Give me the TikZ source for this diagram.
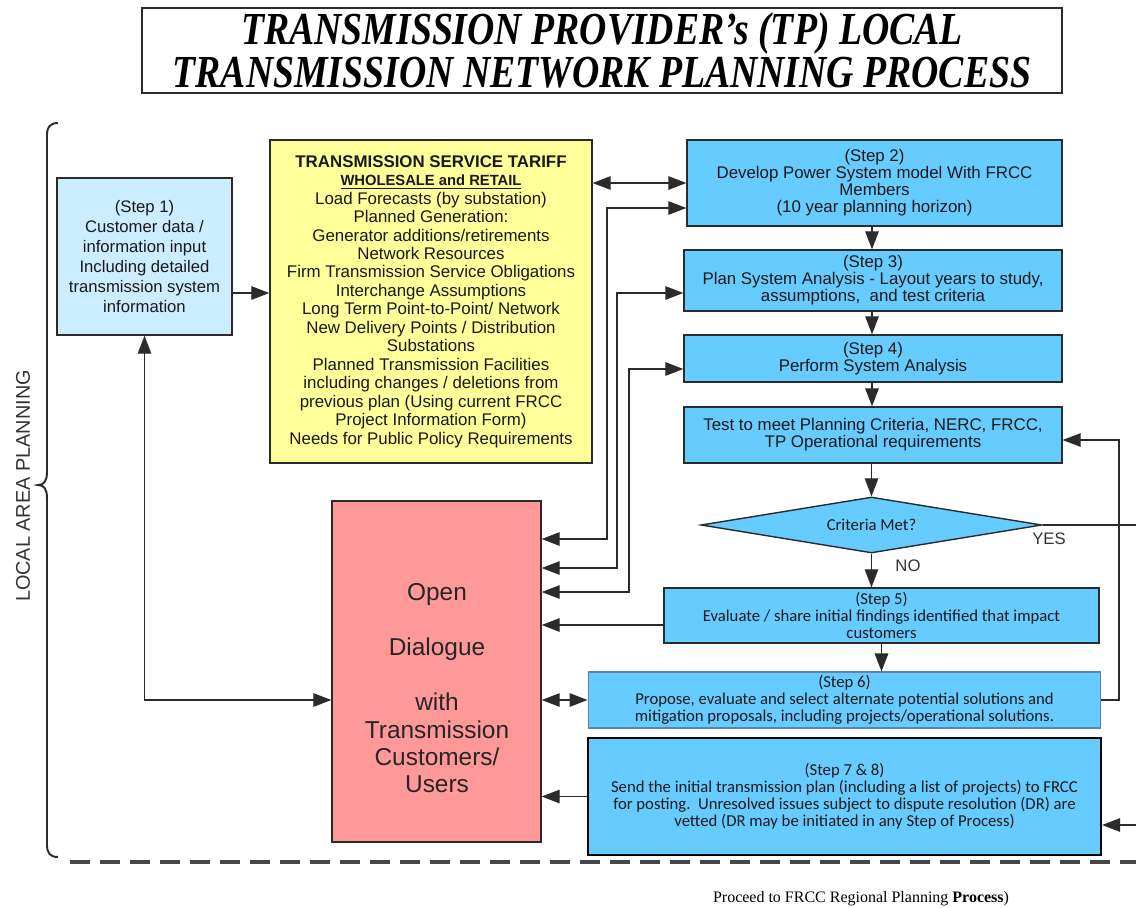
\documentclass[tikz,border=0pt]{standalone}
\usepackage{fontspec}
\setmainfont{Liberation Sans}
\newfontfamily\calfont{Carlito}
\newfontfamily\serffont{Liberation Serif}
\usetikzlibrary{arrows.meta,shapes.geometric}

\definecolor{skyfill}{HTML}{66CCFF}
\definecolor{palefill}{HTML}{CCECFF}
\definecolor{tarifffill}{HTML}{FFFF99}
\definecolor{dialfill}{HTML}{FF9999}
\definecolor{edge}{HTML}{2B2B2B}
\definecolor{dashgray}{HTML}{474747}
\definecolor{softedge}{HTML}{5C84A8}

\begin{document}
\begin{tikzpicture}[x=0.02cm,y=-0.02cm,
  box/.style={draw=edge, line width=0.8pt, inner sep=0pt, align=center, text=black!90},
  arialtxt/.style={font=\fontsize{9.6pt}{9.7pt}\selectfont},
  calibtxt/.style={font=\calfont\fontsize{9.5pt}{9.7pt}\selectfont},
  tip/.tip={Triangle[length=0.36cm,width=0.27cm]},
  arr/.style={draw=edge, line width=0.75pt, -tip},
  dblarr/.style={draw=edge, line width=0.75pt, tip-tip},
  plainline/.style={draw=edge, line width=0.75pt}]

\useasboundingbox (0,0) rectangle (1136,907);

% heading
\node[draw=edge, line width=0.9pt, minimum width=18.4cm, minimum height=1.7cm,
      inner sep=0pt, align=center,
      font=\serffont\bfseries\itshape\fontsize{26.1pt}{24.4pt}\selectfont] (title) at (602,50.5)
  {\scalebox{0.823}[1]{TRANSMISSION PROVIDER’s (TP) LOCAL}\\
   \scalebox{0.823}[1]{TRANSMISSION NETWORK PLANNING PROCESS}};

% side brace and label
\draw[edge, line width=1.1pt] (58,123) .. controls (50,123) and (47,127) .. (47,135)
  -- (47,472) .. controls (47,481) and (44,485) .. (38,485)
  .. controls (44,485) and (47,489) .. (47,498)
  -- (47,845) .. controls (47,853) and (50,857) .. (58,857);
\node[rotate=90, font=\fontsize{11.3pt}{13pt}\selectfont, text=black!80] (side) at (23,486) {LOCAL AREA PLANNING};

% boxes
\node[box, fill=palefill, minimum width=3.5cm, minimum height=3.14cm,
      font=\fontsize{9.5pt}{11.3pt}\selectfont] (step1) at (144.5,256.5)
  {(Step 1)\\Customer data /\\information input\\Including detailed\\transmission system\\information};

\node[box, fill=tarifffill, minimum width=6.44cm, minimum height=6.46cm,
      font=\fontsize{9.6pt}{10.5pt}\selectfont] (tariff) at (431,301.5)
  {{\bfseries TRANSMISSION SERVICE TARIFF}\\
   {\bfseries\fontsize{8.4pt}{10pt}\selectfont\underline{WHOLESALE and RETAIL}}\\
   Load Forecasts (by substation)\\
   Planned Generation:\\
   Generator additions/retirements\\
   Network Resources\\
   Firm Transmission Service Obligations\\
   Interchange Assumptions\\
   Long Term Point-to-Point/ Network\\
   New Delivery Points / Distribution\\
   Substations\\
   Planned Transmission Facilities\\
   including changes / deletions from\\
   previous plan (Using current FRCC\\
   Project Information Form)\\
   Needs for Public Policy Requirements};

\node[box, fill=skyfill, arialtxt, minimum width=7.5cm, minimum height=1.72cm] (step2) at (874.5,183)
  {(Step 2)\\Develop Power System model With FRCC\\Members\\(10 year planning horizon)};
\node[box, fill=skyfill, arialtxt, minimum width=7.56cm, minimum height=1.22cm] (step3) at (873,280.5)
  {(Step 3)\\Plan System Analysis - Layout years to study,\\assumptions,\ \ and test criteria};
\node[box, fill=skyfill, arialtxt, minimum width=7.56cm, minimum height=0.94cm] (step4) at (873,358.5)
  {(Step 4)\\Perform System Analysis};
\node[box, fill=skyfill, arialtxt, minimum width=7.56cm, minimum height=1.12cm] (test) at (873,435)
  {Test to meet Planning Criteria, NERC, FRCC,\\TP Operational requirements};
\node[box, diamond, shape aspect=6.09, fill=skyfill, calibtxt, minimum width=6.82cm, minimum height=1.12cm] (crit) at (871.5,525)
  {Criteria Met?};
\node[box, fill=skyfill, calibtxt, minimum width=8.7cm, minimum height=1.1cm] (step5) at (881.5,615.5)
  {(Step 5)\\Evaluate / share initial findings identified that impact\\customers};
\node[box, fill=skyfill, calibtxt, draw=softedge, line width=0.6pt, minimum width=10.26cm, minimum height=1.12cm] (step6) at (844.5,700)
  {(Step 6)\\Propose, evaluate and select alternate potential solutions and\\mitigation proposals, including projects/operational solutions.};
\node[box, fill=skyfill, calibtxt, draw=black, line width=1.3pt, minimum width=10.26cm, minimum height=2.34cm] (step78) at (844.5,796.5)
  {(Step 7 \& 8)\\Send the initial transmission plan (including a list of projects) to FRCC\\for posting.\ \ Unresolved issues subject to dispute resolution (DR) are\\vetted (DR may be initiated in any Step of Process)};

\node[box, fill=dialfill, minimum width=4.18cm, minimum height=6.82cm] (dialog) at (436.5,671.5) {};
\node[align=center, inner sep=0pt, text=black!85, font=\fontsize{13.9pt}{15.6pt}\selectfont] (dialogtxt) at (437,688.5)
  {Open\\\mbox{}\\Dialogue\\\mbox{}\\with\\Transmission\\Customers/\\Users};

% decision labels
\node[font=\fontsize{9.5pt}{10pt}\selectfont, text=black!80] (yes) at (1049,539) {YES};
\node[font=\fontsize{9.5pt}{10pt}\selectfont, text=black!80] (no) at (908,566) {NO};

% main flow
\coordinate (axis) at (872,0);
\draw[arr] (step2.south -| axis) -- (step3.north -| axis);
\draw[arr] (step3.south -| axis) -- (step4.north -| axis);
\draw[arr] (step4.south -| axis) -- (test.north -| axis);
\draw[arr] (test.south -| crit.north) -- (crit.north);
\draw[arr] (crit.south) -- (step5.north -| crit.south);
\draw[arr] (step5.south) -- (step6.north -| step5.south);

% inputs
\draw[arr] (step1.east |- 0,293) -- (tariff.west |- 0,293);
\draw[dblarr] (tariff.east |- 0,183) -- (step2.west |- 0,183);

% dialogue links
\draw[dblarr] (dialog.east |- 0,539) -- (607,539) -- (607,208) -- (step2.west |- 0,208);
\draw[dblarr] (dialog.east |- 0,568) -- (617,568) -- (617,293) -- (step3.west |- 0,293);
\draw[dblarr] (dialog.east |- 0,592) -- (629,592) -- (629,369) -- (step4.west |- 0,369);
\draw[arr] (step5.west |- 0,625) -- (dialog.east |- 0,625);
\draw[dblarr] (dialog.east |- step6.west) -- (step6.west);
\draw[arr] (step78.west) -- (dialog.east |- step78.west);
\draw[dblarr] (step1.south) |- (dialog.west |- 0,700);

% loop back and outgoing lines
\draw[arr] (step6.east) -- (1119,700) -- (1119,440) -- (test.east |- 0,440);
\coordinate (yesend) at (1136,525);
\draw[plainline] (crit.east) -- (yesend);
\coordinate (drin) at (1136,825);
\draw[arr] (drin) -- (step78.east |- drin);

% boundary of the local area
\coordinate (dl) at (70,862);
\coordinate (dr) at (1136,862);
\draw[dashgray, line width=2pt, dash pattern=on 0.4cm off 0.2cm] (dl) -- (dr);

\node[font=\serffont\fontsize{9.1pt}{11pt}\selectfont] (foot) at (861,899)
  {Proceed to FRCC Regional Planning \textbf{Process})};
\end{tikzpicture}
\end{document}
